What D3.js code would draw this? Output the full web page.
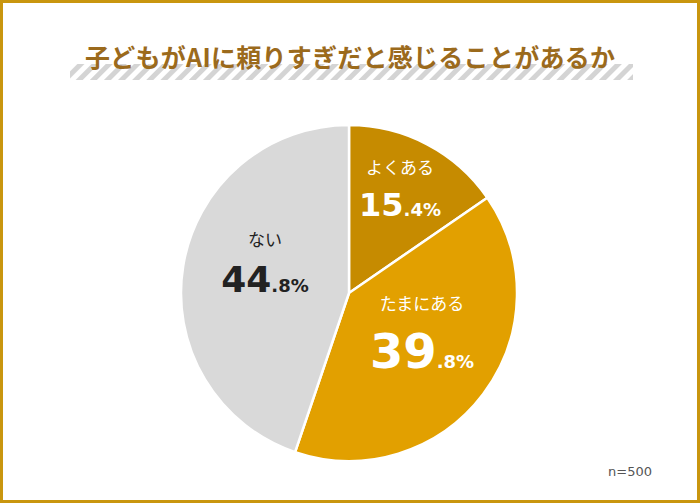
<!DOCTYPE html>
<html><head><meta charset="utf-8">
<script src="https://cdn.jsdelivr.net/npm/d3@7"></script>
<style>body{margin:0;background:#fff}svg{display:block;font-family:"Noto Sans CJK JP","Noto Sans",sans-serif}</style>
</head><body><div id="chart"></div>
<script>
var labels = ["よくある", "たまにある", "ない"];
var values = [15.4, 39.8, 44.8];
var colors = ["#c68b00", "#e2a000", "#d9d9d9"];

var w = 700, h = 503, cx = 349, cy = 293, r = 168;
var svg = d3.select("#chart").append("svg").attr("width", w).attr("height", h);

svg.append("rect").attr("x", 1.5).attr("y", 1.5).attr("width", w - 3).attr("height", h - 3)
    .attr("fill", "#fff").attr("stroke", "#c9960f").attr("stroke-width", 3);

// striped band under title
var defs = svg.append("defs");
var pat = defs.append("pattern").attr("id", "stripe").attr("patternUnits", "userSpaceOnUse")
    .attr("width", 10).attr("height", 10).attr("patternTransform", "rotate(45)");
pat.append("rect").attr("width", 5).attr("height", 10).attr("fill", "#d4d4d4");
svg.append("rect").attr("x", 70).attr("y", 64).attr("width", 563).attr("height", 16).attr("fill", "url(#stripe)");

svg.append("text").attr("x", 350).attr("y", 67).attr("text-anchor", "middle")
    .attr("font-size", 25).attr("font-weight", "bold").attr("fill", "#9b6a1c")
    .attr("textLength", 530).text("子どもがAIに頼りすぎだと感じることがあるか");

var pie = d3.pie().sort(null).value(function (d) { return d; });
var arc = d3.arc().innerRadius(0).outerRadius(r);
var arcs = pie(values);
var g = svg.append("g").attr("transform", "translate(" + cx + "," + cy + ")");
g.selectAll("path").data(arcs).enter().append("path")
    .attr("d", arc).attr("fill", function (d, i) { return colors[i]; })
    .attr("stroke", "#fff").attr("stroke-width", 2.5);

var lpos = [[400, 174], [422, 310], [265, 246]];
var big = [32, 48, 36];
arcs.forEach(function (d, i) {
    var col = i === 2 ? "#222" : "#fff";
    svg.append("text").attr("x", lpos[i][0]).attr("y", lpos[i][1]).attr("text-anchor", "middle")
        .attr("font-size", 17).attr("fill", col).text(labels[i]);
    var parts = String(values[i]).split(".");
    var t = svg.append("text").attr("x", lpos[i][0]).attr("y", lpos[i][1] + big[i] + 10)
        .attr("text-anchor", "middle").attr("font-weight", "bold").attr("fill", col)
        .attr("font-family", "'DejaVu Sans', Verdana, sans-serif");
    t.append("tspan").attr("font-size", big[i]).text(parts[0]);
    t.append("tspan").attr("font-size", 18).text("." + parts[1] + "%");
});

svg.append("text").attr("x", 630).attr("y", 476).attr("text-anchor", "middle")
    .attr("font-size", 13).attr("fill", "#555").attr("font-family", "'DejaVu Sans', sans-serif").text("n=500");
</script></body></html>
